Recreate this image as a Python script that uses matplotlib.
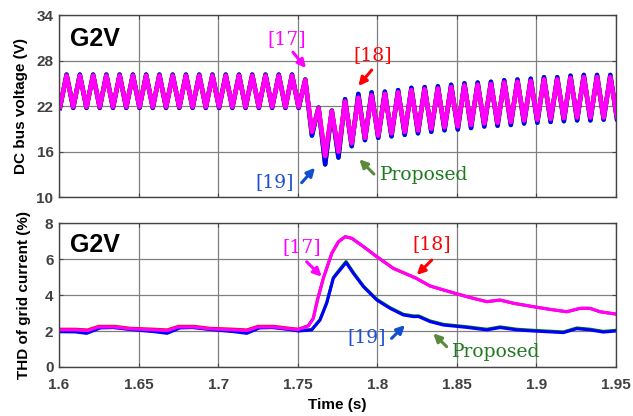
import numpy as np
import matplotlib
matplotlib.use('Agg')
import matplotlib.pyplot as plt


# --------> Dados
# --
# Tensão do barramento CC: ondulação de 120 Hz, valores de pico e vale por ciclo
ripple_start = 1.6006     # instante do primeiro vale (s)
ripple_period = 1 / 120   # período da ondulação (s)

# [17] (magenta) -- [18] fica por baixo, praticamente igual
peaks_17 = [26.0] * 18 + [25.4, 21.7, 21.3, 22.6, 23.1, 23.4, 23.6, 23.8, 24.1, 24.2,
                          24.3, 24.5, 24.7, 24.8, 24.9, 25.1, 25.2, 25.3, 25.5, 25.5,
                          25.7, 25.8, 25.8, 25.8]
valleys_17 = [21.9] * 19 + [18.6, 15.4, 16.0, 17.1, 17.8, 18.1, 18.4, 18.6, 18.8, 19.0,
                            19.2, 19.3, 19.5, 19.7, 19.8, 19.9, 20.1, 20.2, 20.3, 20.4,
                            20.5, 20.5, 20.5, 20.6]

# [19] (azul) -- Proposed fica por baixo, praticamente igual
peaks_19 = [26.15] * 18 + [25.5, 21.8, 21.4, 22.9, 23.6, 23.8, 23.9, 24.1, 24.4, 24.5,
                           24.6, 24.8, 25.0, 25.1, 25.2, 25.4, 25.5, 25.6, 25.8, 25.8,
                           26.0, 26.1, 26.1, 26.1]
valleys_19 = [21.75] * 19 + [18.1, 14.3, 15.2, 16.7, 17.5, 17.8, 18.0, 18.2, 18.4, 18.6,
                             18.8, 18.9, 19.1, 19.3, 19.4, 19.5, 19.7, 19.8, 19.9, 20.0,
                             20.1, 20.1, 20.2, 20.3]

# THD da corrente da rede (%)
thd_t_17 = [1.600, 1.610, 1.618, 1.625, 1.635, 1.645, 1.660, 1.668, 1.675, 1.685,
            1.695, 1.710, 1.718, 1.725, 1.735, 1.745, 1.7504, 1.7567, 1.7598, 1.7624,
            1.7661, 1.7714, 1.7756, 1.7798, 1.784, 1.7913, 1.7997, 1.8101, 1.824, 1.8332,
            1.8416, 1.8562, 1.8688, 1.8772, 1.8856, 1.8981, 1.9086, 1.9191, 1.9275, 1.9337,
            1.940, 1.950]
thd_17 = [2.06, 2.06, 2.02, 2.22, 2.22, 2.12, 2.06, 2.02, 2.22, 2.22,
          2.12, 2.06, 2.02, 2.22, 2.22, 2.12, 2.08, 2.28, 2.7, 3.72,
          4.93, 6.31, 6.96, 7.24, 7.15, 6.69, 6.13, 5.48, 4.95, 4.5,
          4.28, 3.91, 3.63, 3.72, 3.54, 3.35, 3.2, 3.07, 3.26, 3.26,
          3.07, 2.94]
thd_18 = [2.1, 2.1, 2.06, 2.26, 2.26, 2.15, 2.1, 2.06, 2.26, 2.26,
          2.15, 2.1, 2.06, 2.26, 2.26, 2.15, 2.1, 2.3, 2.72, 3.72,
          4.93, 6.31, 6.96, 7.24, 7.15, 6.69, 6.13, 5.48, 4.95, 4.5,
          4.28, 3.91, 3.63, 3.72, 3.54, 3.35, 3.2, 3.07, 3.26, 3.26,
          3.07, 2.94]

thd_t_19 = [1.600, 1.610, 1.6174, 1.626, 1.634, 1.645, 1.660, 1.668, 1.676, 1.684,
            1.695, 1.710, 1.718, 1.726, 1.734, 1.745, 1.7504, 1.7588, 1.764, 1.7682,
            1.7724, 1.7766, 1.7804, 1.785, 1.7913, 1.7997, 1.808, 1.8164, 1.8227, 1.826,
            1.8332, 1.8416, 1.8562, 1.8688, 1.8772, 1.8877, 1.8981, 1.917, 1.9254, 1.9337,
            1.9421, 1.950]
thd_19 = [1.96, 1.95, 1.87, 2.17, 2.19, 2.08, 1.96, 1.87, 2.17, 2.19,
          2.08, 1.96, 1.87, 2.17, 2.19, 2.08, 2.0, 2.06, 2.61, 3.54,
          4.93, 5.39, 5.8, 5.2, 4.46, 3.72, 3.26, 2.89, 2.8, 2.8,
          2.52, 2.33, 2.2, 2.06, 2.19, 2.06, 2.0, 1.91, 2.13, 2.06,
          1.94, 2.0]
thd_prop = [2.0, 1.99, 1.92, 2.2, 2.22, 2.1, 2.0, 1.92, 2.2, 2.22,
            2.1, 2.0, 1.92, 2.2, 2.22, 2.1, 2.02, 2.08, 2.63, 3.58,
            4.97, 5.45, 5.86, 5.25, 4.5, 3.76, 3.3, 2.93, 2.84, 2.84,
            2.56, 2.37, 2.24, 2.1, 2.23, 2.1, 2.04, 1.95, 2.17, 2.1,
            1.98, 2.04]

time_ticks = [1.6, 1.65, 1.7, 1.75, 1.8, 1.85, 1.9, 1.95]
time_labels = ['1.6', '1.65', '1.7', '1.75', '1.8', '1.85', '1.9', '1.95']
volt_ticks = [10, 16, 22, 28, 34]
thd_ticks = [0, 2, 4, 6, 8]
# --


# Monta a sequência vale/pico/vale... da ondulação
def ripple(peaks, valleys):
    vals = []
    for v, p in zip(valleys, peaks):
        vals += [v, p]
    vals.append(valleys[-1])
    t = ripple_start + np.arange(len(vals)) * ripple_period / 2
    return t, np.array(vals)


t17, v17 = ripple(peaks_17, valleys_17)
t19, v19 = ripple(peaks_19, valleys_19)

C_MAG = '#ff00ff'
C_RED = '#ff0000'
C_BLUE = '#0000ff'
C_GREEN = '#008000'

plt.rcParams['font.family'] = ['Liberation Sans', 'DejaVu Sans']

fig = plt.figure(figsize=(6.33, 4.16), dpi=100)
ax1 = fig.add_axes([0.0932, 0.5264, 0.8799, 0.4375])
ax2 = fig.add_axes([0.0932, 0.1178, 0.8799, 0.3461])

# Gráfico superior: tensão
ax1.plot(t19, v19, color=C_GREEN, lw=3.2, solid_joinstyle='round')
ax1.plot(t19, v19, color=C_BLUE, lw=3.2, solid_joinstyle='round')
ax1.plot(t17, v17, color=C_RED, lw=3.2, solid_joinstyle='round')
ax1.plot(t17, v17, color=C_MAG, lw=3.2, solid_joinstyle='round')
ax1.set_ylim(10, 34)
ax1.set_yticks(volt_ticks)
ax1.set_ylabel('DC bus voltage (V)', fontweight='bold', fontsize=11, labelpad=6)

# Gráfico inferior: THD
ax2.plot(thd_t_19, thd_prop, color=C_GREEN, lw=2.2)
ax2.plot(thd_t_19, thd_19, color=C_BLUE, lw=2.2)
ax2.plot(thd_t_17, thd_18, color=C_RED, lw=2.2)
ax2.plot(thd_t_17, thd_17, color=C_MAG, lw=2.2)
ax2.set_ylim(0, 8)
ax2.set_yticks(thd_ticks)
ax2.set_ylabel('THD of grid current (%)', fontweight='bold', fontsize=11, labelpad=10)
ax2.set_xlabel('Time (s)', fontweight='bold', fontsize=11, labelpad=4)

for ax in (ax1, ax2):
    ax.set_xlim(1.6, 1.95)
    ax.set_xticks(time_ticks)
    ax.grid(True, color='#808080', lw=0.9)
    ax.set_axisbelow(True)
    ax.tick_params(direction='in', top=True, right=True, length=3, color='#444444',
                   labelsize=11, labelcolor='#404040', pad=4)
    for lab in ax.get_yticklabels():
        lab.set_fontweight('bold')
    for s in ax.spines.values():
        s.set_color('#444444')
        s.set_linewidth(1.0)
    ax.text(0.02, 0.87 if ax is ax1 else 0.85, 'G2V', transform=ax.transAxes,
            fontsize=18, fontweight='bold', va='center', ha='left')

ax1.set_xticklabels([])
ax2.set_xticklabels(time_labels)
ax2.tick_params(axis='x', pad=8)
for lab in ax2.get_xticklabels():
    lab.set_fontweight('bold')

# Anotações
serif = 'DejaVu Serif'


def label(ax, txt, x, y, color, tail, tip, acolor=None, ha='center'):
    ax.text(x, y, txt, color=color, family=serif, fontsize=13.5, ha=ha, va='center')
    ax.annotate('', xy=tip, xytext=tail,
                arrowprops=dict(arrowstyle='-|>', color=acolor or color, lw=2.2,
                                mutation_scale=12, shrinkA=0, shrinkB=0))


label(ax1, '[17]', 1.7433, 30.83, C_MAG, (1.747, 29.1), (1.7552, 27.0))
label(ax1, '[18]', 1.797, 28.72, C_RED, (1.7965, 26.75), (1.7881, 24.64))
label(ax1, '[19]', 1.7357, 12.02, '#1f4fd0', (1.7525, 11.89), (1.7609, 13.86), acolor='#1050d0')
label(ax1, 'Proposed', 1.8017, 12.9, '#1e7a1e', (1.7979, 13.03), (1.7887, 14.97),
      acolor='#5b8a3c', ha='left')

label(ax2, '[17]', 1.7525, 6.64, C_MAG, (1.7556, 5.85), (1.7651, 5.02))
label(ax2, '[18]', 1.8342, 6.83, C_RED, (1.8342, 5.94), (1.8248, 5.11))
label(ax2, '[19]', 1.7933, 1.68, '#1f4fd0', (1.809, 1.59), (1.8174, 2.33), acolor='#1050d0')
label(ax2, 'Proposed', 1.8467, 0.85, '#1e7a1e', (1.8436, 1.13), (1.8352, 1.87),
      acolor='#5b8a3c', ha='left')

fig.savefig('out.png', dpi=100)
